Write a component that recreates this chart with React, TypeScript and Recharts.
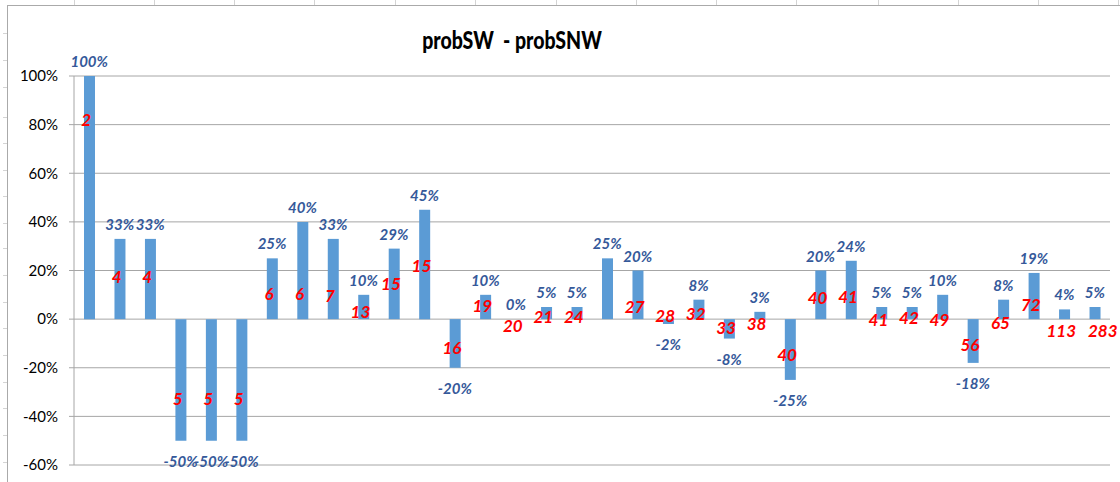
import React from 'react';
import { ComposedChart, Bar, Line, XAxis, YAxis, CartesianGrid, LabelList } from 'recharts';

// probSW - probSNW, in percent, one bar per group
const diffs = [100, 33, 33, -50, -50, -50, 25, 40, 33, 10, 29, 45, -20, 10, 0, 5, 5, 25, 20, -2, 8, -8, 3, -25, 20, 24, 5, 5, 10, -18, 8, 19, 4, 5];
// red counts written on the bars (none on group 18)
const counts = [2, 4, 4, 5, 5, 5, 6, 6, 7, 13, 15, 15, 16, 19, 20, 21, 24, null, 27, 28, 32, 33, 38, 40, 40, 41, 41, 42, 49, 56, 65, 72, 113, 283];
// where each count sits, read in axis units (%)
const countPos = [82, 17.7, 17.7, -32.5, -32.5, -32.5, 10.7, 10.7, 9.9, 3.3, 14.8, 22, -11.5, 5.8, -2.5, 1.2, 1.2, null, 5.3, 1.6, 2.5, -3.3, -2, -14.4, 9, 9.5, 0, 0.8, 0, -10.3, -1.2, 6.2, -4.5, -4.5];
const categories = diffs.map((_, i) => String(i + 1));
const yTicks = [-60, -40, -20, 0, 20, 40, 60, 80, 100];

// faint sheet gridline stubs around the chart frame (page pixels)
const sheetColX = [74, 154, 234, 314, 395, 475, 556, 636, 716, 796, 878, 958, 1038, 1118];
const sheetRowY = [33, 60, 87, 117, 143, 170, 196, 223, 248, 275, 302, 328, 355, 382, 408, 435, 462];

const chartData = categories.map((cat, i) => ({
    cat,
    diff: diffs[i],
    n: counts[i],
    nPos: countPos[i],
}));

const FONT = 'Lato, "Liberation Sans", sans-serif';

// percent label: above the bar end when positive, below when negative
const PctLabel = (props: any) => {
    const { x, y, value } = props;
    if (value == null || y == null || isNaN(y)) return null;
    const cy = value >= 0 ? y - 15 : y + 20;
    return (
        <text x={x} y={cy} textAnchor="middle" dominantBaseline="central"
            fill="#35599a" fontFamily={FONT} fontSize={15} fontWeight="bold" fontStyle="italic">
            {value}%
        </text>
    );
};

// the last count label was pushed right in the original so it doesn't run into "113"
const CountLabel = (props: any) => {
    const { x, y, value, index } = props;
    if (value == null || y == null || isNaN(y)) return null;
    const dx = index === counts.length - 1 ? 8 : -3;
    return (
        <text x={x + dx} y={y} textAnchor="middle" dominantBaseline="central"
            fill="#ff0000" fontFamily={FONT} fontSize={17} fontWeight="bold" fontStyle="italic">
            {value}
        </text>
    );
};

const App: React.FC = () => {
    return (
        <div style={{ position: 'absolute', left: 0, top: 0, width: 1120, height: 482, background: '#fff', overflow: 'hidden' }}>
            {sheetColX.map((x) => (
                <div key={'c' + x} style={{ position: 'absolute', left: x, top: 0, width: 1, height: 6, background: '#d4d4d4' }} />
            ))}
            {sheetRowY.map((y) => (
                <div key={'r' + y} style={{ position: 'absolute', left: 3, top: y, width: 4, height: 1, background: '#d4d4d4' }} />
            ))}
            <div style={{ position: 'absolute', left: 7, top: 5, width: 1300, height: 700, border: '1px solid #aaaaaa' }} />
            <div style={{
                position: 'absolute', left: 312, top: 24, width: 400, textAlign: 'center',
                fontFamily: FONT, fontWeight: 900, fontSize: 25, lineHeight: '30px', color: '#000', whiteSpace: 'pre',
                transform: 'scaleX(0.78)', transformOrigin: '200px 50%',
            }}>
                {'probSW  - probSNW'}
            </div>
            <div style={{ position: 'absolute', left: 0, top: 0 }}>
                <ComposedChart width={1120} height={482} data={chartData}
                    margin={{ top: 76, right: 10, bottom: 17, left: 0 }}>
                    <CartesianGrid vertical={false} stroke="#a6a6a6" />
                    <XAxis dataKey="cat" hide />
                    <YAxis
                        width={74}
                        domain={[-60, 100]}
                        ticks={yTicks}
                        interval={0}
                        tickFormatter={(v) => `${v}%`}
                        tick={{ fill: '#000', fontSize: 15, fontFamily: FONT }}
                        tickSize={5}
                        tickMargin={11}
                        stroke="#a6a6a6"
                        allowDataOverflow
                    />
                    <Bar dataKey="diff" fill="#5b9bd5" barSize={11} isAnimationActive={false} />
                    <Line dataKey="diff" stroke="none" dot={false} activeDot={false} isAnimationActive={false}>
                        <LabelList dataKey="diff" content={PctLabel} />
                    </Line>
                    <Line dataKey="nPos" stroke="none" dot={false} activeDot={false} isAnimationActive={false}>
                        <LabelList dataKey="n" content={CountLabel} />
                    </Line>
                </ComposedChart>
            </div>
        </div>
    );
};

export default App;
